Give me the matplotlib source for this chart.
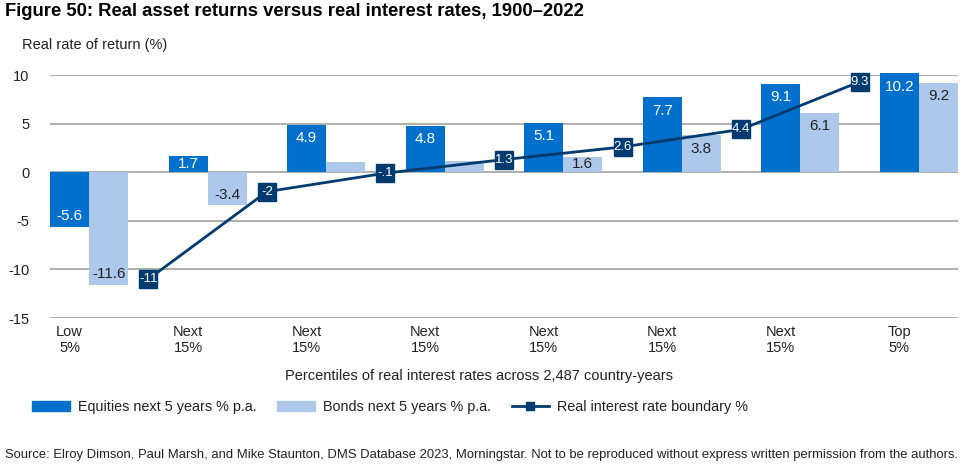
import numpy as np
import matplotlib
matplotlib.use('Agg')
import matplotlib.pyplot as plt
from matplotlib.patches import Patch
from matplotlib.lines import Line2D

plt.rcParams['font.family'] = ['Liberation Sans', 'DejaVu Sans']
plt.rcParams['axes.unicode_minus'] = False

# data
groups = ['Low\n5%', 'Next\n15%', 'Next\n15%', 'Next\n15%', 'Next\n15%', 'Next\n15%', 'Next\n15%', 'Top\n5%']
equities = [-5.6, 1.7, 4.9, 4.8, 5.1, 7.7, 9.1, 10.2]
bonds = [-11.6, -3.4, 1.1, 1.2, 1.6, 3.8, 6.1, 9.2]
bond_labels = ['-11.6', '-3.4', '', '', '1.6', '3.8', '6.1', '9.2']
boundary = [-11, -2, -0.1, 1.3, 2.6, 4.4, 9.3]
boundary_labels = ['-11', '-2', '-.1', '1.3', '2.6', '4.4', '9.3']

eq_col = '#0070CC'
bd_col = '#ADC8EA'
ln_col = '#003B70'
grid_col = '#999999'

fig = plt.figure(figsize=(9.74, 4.68), dpi=100)
ax = fig.add_axes([50 / 974, 1 - 318 / 468, 908 / 974, 243 / 468])

w = 0.33
x = np.arange(len(groups))
ax.set_xlim(0, len(groups) - 1 + 2 * w)
ax.set_ylim(-15, 10)

for yv in [-15, -10, -5, 0, 5, 10]:
    ax.axhline(yv, color=grid_col, lw=1.1, zorder=1)

ax.bar(x, equities, w, align='edge', color=eq_col, zorder=2, clip_on=False)
ax.bar(x + w, bonds, w, align='edge', color=bd_col, zorder=2, clip_on=False)

def bar_label(xc, v, txt, color):
    if not txt:
        return
    px_per_unit = 243 / 25
    h = abs(v) * px_per_unit
    if v >= 0:
        off = -min(13.5, h / 2)
    else:
        off = min(10.5, h / 2)
    ax.annotate(txt, (xc, v), xytext=(0, off), textcoords='offset pixels',
                ha='center', va='center', fontsize=11, color=color, zorder=5,
                annotation_clip=False)

for i in range(len(groups)):
    bar_label(x[i] + w / 2, equities[i], f'{equities[i]:g}', 'white')
    bar_label(x[i] + 1.5 * w, bonds[i], bond_labels[i], '#222222')

# boundary markers sit in the gap between neighbouring groups
bx = np.arange(len(boundary)) + w + 0.5
ax.plot(bx, boundary, color=ln_col, lw=2, marker='s', markersize=13, zorder=4, clip_on=False)
for xi, yi, t in zip(bx, boundary, boundary_labels):
    ax.text(xi, yi, t, ha='center', va='center', color='white', fontsize=9.5, zorder=6)

for s in ax.spines.values():
    s.set_visible(False)
ax.set_yticks([-15, -10, -5, 0, 5, 10])
ax.tick_params(axis='y', length=0, pad=15, labelsize=10.5, labelcolor='#222222')
ax.set_xticks(x + w / 2)
ax.set_xticklabels(groups)
ax.tick_params(axis='x', length=0, pad=5, labelsize=10.5, labelcolor='#222222')

fig.text(5 / 974, 1 - 12 / 468, 'Figure 50: Real asset returns versus real interest rates, 1900\u20132022',
         fontsize=13.3, fontweight='bold', va='center', ha='left')
fig.text(22 / 974, 1 - 45 / 468, 'Real rate of return (%)', fontsize=10.5, va='center', ha='left', color='#222222')
fig.text(479 / 974, 1 - 376 / 468, 'Percentiles of real interest rates across 2,487 country-years',
         fontsize=10.5, va='center', ha='center', color='#222222')
fig.text(5 / 974, 1 - 455 / 468,
         'Source: Elroy Dimson, Paul Marsh, and Mike Staunton, DMS Database 2023, Morningstar. Not to be reproduced without express written permission from the authors.',
         fontsize=9.4, va='center', ha='left', color='#222222')

handles = [Patch(color=eq_col), Patch(color=bd_col),
           Line2D([], [], color=ln_col, lw=2, marker='s', markersize=6)]
labels = ['Equities next 5 years % p.a.', 'Bonds next 5 years % p.a.', 'Real interest rate boundary %']
fig.legend(handles, labels, ncol=3, loc='center left', bbox_to_anchor=(0.033, 1 - 407 / 468),
           frameon=False, fontsize=10.4, handlelength=2.6, handleheight=0.75, columnspacing=1.45,
           handletextpad=0.55, labelcolor='#222222', borderpad=0, borderaxespad=0)

fig.savefig('out.png', dpi=100)
